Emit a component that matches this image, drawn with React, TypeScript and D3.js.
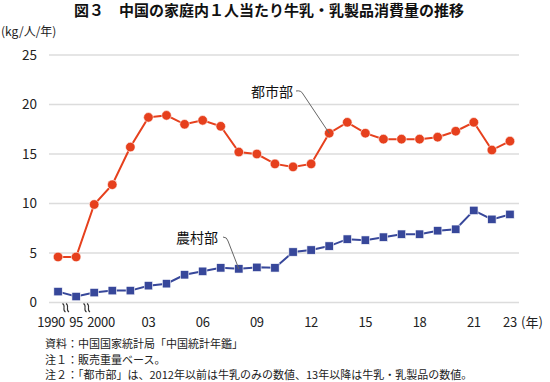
import React from "react";
import * as d3 from "d3";

const years = ["1990","1995","2000","2001","2002","2003","2004","2005","2006","2007","2008","2009","2010","2011","2012","2013","2014","2015","2016","2017","2018","2019","2020","2021","2022","2023"];
const urban = [4.6,4.6,9.9,11.9,15.7,18.7,18.9,18.0,18.4,17.8,15.2,15.0,14.0,13.7,14.0,17.1,18.2,17.1,16.5,16.5,16.5,16.7,17.3,18.2,15.4,16.3];
const rural = [1.1,0.6,1.0,1.2,1.2,1.7,1.9,2.8,3.15,3.5,3.4,3.55,3.5,5.1,5.3,5.7,6.4,6.3,6.6,6.9,6.9,7.25,7.4,9.3,8.4,8.9];
const yTicks = [0,5,10,15,20,25];
const xTickLabels: { year: string; label: string; anchor: string; dx: number }[] = [
  { year: "1990", label: "1990", anchor: "end", dx: 7 },
  { year: "1995", label: "95", anchor: "middle", dx: 0 },
  { year: "2000", label: "2000", anchor: "start", dx: -7 },
  { year: "2003", label: "03", anchor: "middle", dx: 0 },
  { year: "2006", label: "06", anchor: "middle", dx: 0 },
  { year: "2009", label: "09", anchor: "middle", dx: 0 },
  { year: "2012", label: "12", anchor: "middle", dx: 0 },
  { year: "2015", label: "15", anchor: "middle", dx: 0 },
  { year: "2018", label: "18", anchor: "middle", dx: 0 },
  { year: "2021", label: "21", anchor: "middle", dx: 0 },
  { year: "2023", label: "23", anchor: "middle", dx: 0 },
];
const title = "図３　中国の家庭内１人当たり牛乳・乳製品消費量の推移";
const unitLabel = "(kg/人/年)";
const notes = [
  "資料：中国国家統計局「中国統計年鑑」",
  "注１：販売重量ベース。",
  "注２：「都市部」は、2012年以前は牛乳のみの数値、13年以降は牛乳・乳製品の数値。",
];

const FONT = "'Noto Sans CJK JP', 'Noto Sans', sans-serif";
const RED = "#e6401d";
const BLUE = "#37479a";

export default function App() {
  const W = 550, H = 382;
  const x = d3.scalePoint<string>().domain(years).range([49, 519]).padding(0.5);
  const y = d3.scaleLinear().domain([0, 25]).range([302.5, 55]);
  const line = d3.line<number>().x((_, i) => x(years[i])!).y(d => y(d));

  const urbanLabelPt = { x: x("2013")!, y: y(urban[15]) };
  const ruralLabelPt = { x: x("2008")!, y: y(rural[10]) };

  const wave = (cx: number, cy: number) => {
    const p = d3.path();
    p.moveTo(cx - 1.5, cy - 4.5);
    p.bezierCurveTo(cx + 2.5, cy - 2, cx - 2.5, cy + 1.5, cx + 1.5, cy + 4);
    return p.toString();
  };

  return (
    <svg width={W} height={H} style={{ position: "absolute", left: 0, top: 0, background: "#fff" }} fontFamily={FONT}>
      <text x={269} y={16} textAnchor="middle" fontSize={15} fontWeight="bold" fill="#111">{title}</text>
      <text x={1} y={36} fontSize={12} fill="#222">{unitLabel}</text>
      {yTicks.map(t => (
        <g key={t}>
          <line x1={49} x2={519} y1={y(t)} y2={y(t)} stroke="#dcdcdc" strokeWidth={1.5} />
          <text x={37} y={y(t)} dy="0.36em" textAnchor="end" fontSize={13.5} fill="#222">{t}</text>
        </g>
      ))}
      {xTickLabels.map(t => (
        <text key={t.year} x={x(t.year)! + t.dx} y={327} textAnchor={t.anchor as any} fontSize={13} fill="#222" letterSpacing={-0.3}>{t.label}</text>
      ))}
      <text x={521} y={327} fontSize={13} fill="#222">(年)</text>
      {/* break marks */}
      {[64, 67.5, 85, 88.5].map((cx, i) => (
        <path key={i} d={wave(cx, 308)} fill="none" stroke="#333" strokeWidth={1.1} />
      ))}
      {/* urban */}
      <path d={line(urban) || ""} fill="none" stroke={RED} strokeWidth={2} />
      {urban.map((v, i) => (
        <circle key={i} cx={x(years[i])!} cy={y(v)} r={4.8} fill={RED} stroke="#fff" strokeWidth={0.6} />
      ))}
      {/* rural */}
      <path d={line(rural) || ""} fill="none" stroke={BLUE} strokeWidth={2} />
      {rural.map((v, i) => (
        <rect key={i} x={x(years[i])! - 4.2} y={y(v) - 4.2} width={8.4} height={8.4} fill={BLUE} stroke="#fff" strokeWidth={0.6} />
      ))}
      {/* labels */}
      <text x={251} y={97} fontSize={14} fill="#111">都市部</text>
      <path d={`M296,91 Q301,90 303,94 L${urbanLabelPt.x},${urbanLabelPt.y}`} fill="none" stroke="#666" strokeWidth={1} />
      <text x={176} y={243} fontSize={14} fill="#111">農村部</text>
      <path d={`M223,237 Q227,237 228,241 L${ruralLabelPt.x},${ruralLabelPt.y}`} fill="none" stroke="#666" strokeWidth={1} />
      {notes.map((n, i) => (
        <text key={i} x={45} y={348 + i * 15.5} fontSize={11} fill="#222">{n}</text>
      ))}
    </svg>
  );
}
